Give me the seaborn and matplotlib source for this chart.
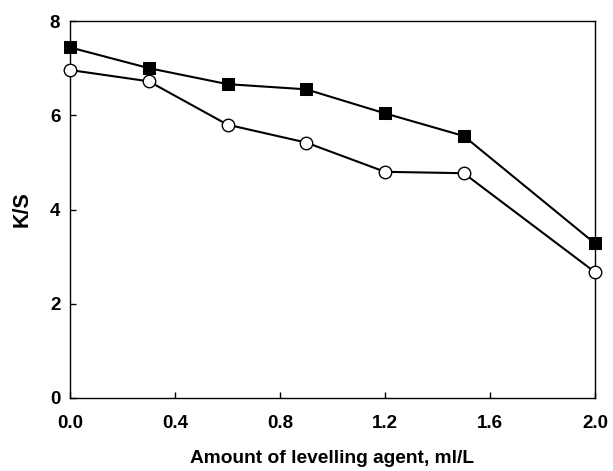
import matplotlib
matplotlib.use("Agg")
import matplotlib.pyplot as plt
import seaborn as sns
import pandas as pd

x_vals = [0.0, 0.3, 0.6, 0.9, 1.2, 1.5, 2.0]
squares = [7.44, 7.00, 6.66, 6.55, 6.04, 5.56, 3.28]
circles = [6.96, 6.72, 5.80, 5.42, 4.80, 4.77, 2.67]
x_ticks = [0.0, 0.4, 0.8, 1.2, 1.6, 2.0]
y_ticks = [0, 2, 4, 6, 8]

sns.set_style("white")
plt.rcParams['font.family'] = ['Liberation Sans', 'DejaVu Sans']
plt.rcParams['font.weight'] = 'bold'
plt.rcParams['text.color'] = 'black'
plt.rcParams['axes.labelcolor'] = 'black'
plt.rcParams['xtick.color'] = 'black'
plt.rcParams['ytick.color'] = 'black'

fig = plt.figure(figsize=(6.13, 4.71), dpi=100)
ax = fig.add_axes([70/613, 1-398/471, 525/613, 377/471])

df_sq = pd.DataFrame({"x": x_vals, "y": squares})
df_ci = pd.DataFrame({"x": x_vals, "y": circles})

sns.lineplot(data=df_sq, x="x", y="y", ax=ax, color="black", lw=1.5,
             marker="s", markersize=8, markerfacecolor="black",
             markeredgecolor="black", clip_on=False, zorder=3)
sns.lineplot(data=df_ci, x="x", y="y", ax=ax, color="black", lw=1.5,
             marker="o", markersize=9, markerfacecolor="white",
             markeredgecolor="black", markeredgewidth=1.0, clip_on=False, zorder=4)

ax.set_xlim(0, 2.0)
ax.set_ylim(0, 8)
ax.set_xticks(x_ticks)
ax.set_xticklabels([f"{v:.1f}" for v in x_ticks])
ax.set_yticks(y_ticks)
ax.tick_params(axis='x', pad=12)
ax.tick_params(axis='y', pad=7)
ax.tick_params(axis='both', direction='in', length=4, width=1, labelsize=13.5,
               colors='black', bottom=True, left=True, top=False, right=False)
for lab in ax.get_xticklabels() + ax.get_yticklabels():
    lab.set_fontweight('bold')
for sp in ax.spines.values():
    sp.set_color('black')
    sp.set_linewidth(1.0)
    sp.set_visible(True)

ax.set_xlabel("Amount of levelling agent, ml/L", fontsize=13.8, fontweight='bold',
              labelpad=13, color='black')
ax.set_ylabel("K/S", fontsize=15.5, fontweight='bold', labelpad=12, color='black')

fig.savefig("out.png", dpi=100)
